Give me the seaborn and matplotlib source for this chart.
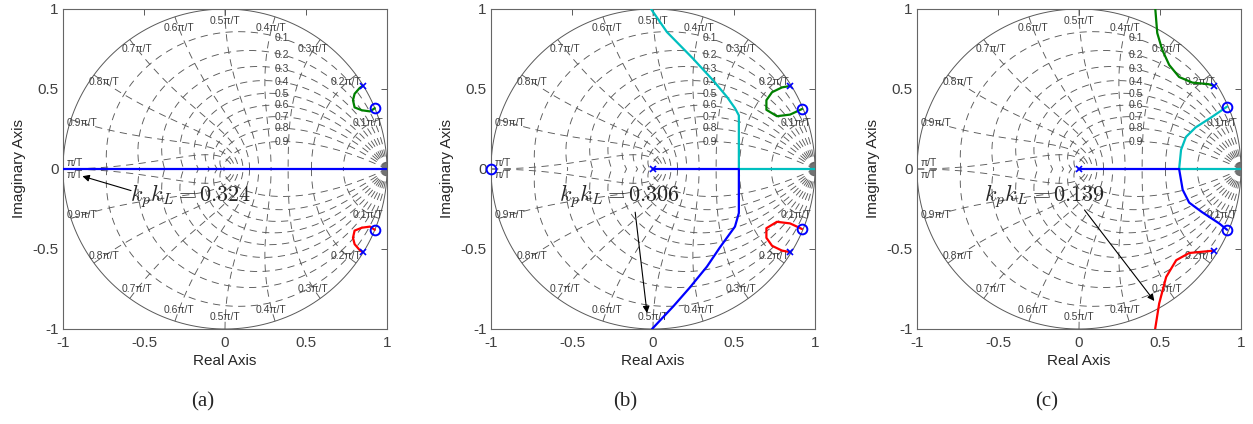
import numpy as np
import matplotlib
matplotlib.use("Agg")
import matplotlib.pyplot as plt
import seaborn as sns

# ---- data (z-plane root loci) ----
captions = ["(a)", "(b)", "(c)"]
gains = ["0.324", "0.306", "0.139"]

# panel (a)
a_blue_x = [-1.0, 1.0]
a_blue_y = [0.0, 0.0]
a_green_x = [0.85, 0.83, 0.80, 0.79, 0.80, 0.845, 0.895, 0.925]
a_green_y = [0.52, 0.505, 0.47, 0.43, 0.385, 0.367, 0.36, 0.38]
a_red_x = [0.85, 0.83, 0.80, 0.79, 0.80, 0.845, 0.895, 0.925]
a_red_y = [-0.52, -0.505, -0.47, -0.43, -0.385, -0.367, -0.36, -0.38]
a_poles_x = [0.85, 0.85]
a_poles_y = [0.52, -0.52]
a_zeros_x = [0.925, 0.925]
a_zeros_y = [0.38, -0.38]

# panel (b)
b_cyan_x = [1.0, 0.53, 0.53, 0.506, 0.457, 0.37, 0.247, 0.086, -0.012]
b_cyan_y = [0.0, 0.0, 0.335, 0.38, 0.45, 0.555, 0.69, 0.856, 1.0]
b_blue_x = [0.0, 0.53, 0.53, 0.506, 0.413, 0.333, 0.228, 0.124, -0.006]
b_blue_y = [0.0, 0.0, -0.275, -0.36, -0.49, -0.61, -0.74, -0.86, -1.0]
b_green_x = [0.846, 0.796, 0.735, 0.70, 0.70, 0.765, 0.846, 0.92]
b_green_y = [0.519, 0.51, 0.48, 0.43, 0.37, 0.33, 0.34, 0.375]
b_red_x = [0.846, 0.796, 0.735, 0.70, 0.70, 0.765, 0.846, 0.92]
b_red_y = [-0.519, -0.51, -0.48, -0.43, -0.37, -0.33, -0.34, -0.375]
b_poles_x = [0.846, 0.846, 0.0]
b_poles_y = [0.519, -0.519, 0.0]
b_zeros_x = [0.92, 0.92, -1.0]
b_zeros_y = [0.375, -0.375, 0.0]

# panel (c)
c_green_x = [0.834, 0.80, 0.70, 0.618, 0.557, 0.514, 0.483, 0.471]
c_green_y = [0.52, 0.53, 0.54, 0.575, 0.65, 0.744, 0.85, 1.0]
c_red_x = [0.834, 0.68, 0.60, 0.538, 0.495, 0.47]
c_red_y = [-0.51, -0.525, -0.57, -0.675, -0.84, -1.0]
c_cyan_x = [1.0, 0.618, 0.63, 0.66, 0.72, 0.82, 0.914]
c_cyan_y = [0.0, 0.0, 0.12, 0.2, 0.26, 0.325, 0.39]
c_blue_x = [0.0, 0.618, 0.64, 0.68, 0.76, 0.865, 0.914]
c_blue_y = [0.0, 0.0, -0.13, -0.21, -0.27, -0.34, -0.38]
c_poles_x = [0.834, 0.834, 0.0]
c_poles_y = [0.52, -0.51, 0.0]
c_zeros_x = [0.914, 0.914]
c_zeros_y = [0.39, -0.38]

# annotation: text centre and arrow (tail -> head)
text_xy = [(-0.21, -0.166), (-0.204, -0.169), (-0.212, -0.169)]
arrow_tail = [(-0.58, -0.135), (-0.11, -0.27), (0.034, -0.256)]
arrow_head = [(-0.88, -0.045), (-0.037, -0.9), (0.465, -0.825)]

panels = [
    dict(lines=[(a_blue_x, a_blue_y, "#0000ff"), (a_green_x, a_green_y, "#008000"),
                (a_red_x, a_red_y, "#ff0000")],
         poles=(a_poles_x, a_poles_y), zeros=(a_zeros_x, a_zeros_y)),
    dict(lines=[(b_cyan_x, b_cyan_y, "#00bfbf"), (b_blue_x, b_blue_y, "#0000ff"),
                (b_green_x, b_green_y, "#008000"), (b_red_x, b_red_y, "#ff0000")],
         poles=(b_poles_x, b_poles_y), zeros=(b_zeros_x, b_zeros_y)),
    dict(lines=[(c_cyan_x, c_cyan_y, "#00bfbf"), (c_blue_x, c_blue_y, "#0000ff"),
                (c_green_x, c_green_y, "#008000"), (c_red_x, c_red_y, "#ff0000")],
         poles=(c_poles_x, c_poles_y), zeros=(c_zeros_x, c_zeros_y)),
]

sns.set_style("white")
plt.rcParams['font.family'] = ['Liberation Sans', 'DejaVu Sans']
plt.rcParams['mathtext.fontset'] = 'cm'
plt.rcParams['axes.unicode_minus'] = False

GRID_C = "0.35"


def zgrid(ax):
    # unit circle
    th = np.linspace(0, 2 * np.pi, 400)
    ax.plot(np.cos(th), np.sin(th), color=GRID_C, lw=0.7, zorder=1)
    dash = dict(color=GRID_C, lw=0.65, ls=(0, (8, 6)), zorder=1)
    # constant damping spirals
    w = np.linspace(0, np.pi, 300)
    for zeta in np.arange(1, 10) / 10:
        r = np.exp(-zeta * w / np.sqrt(1 - zeta ** 2))
        ax.plot(r * np.cos(w), r * np.sin(w), **dash)
        ax.plot(r * np.cos(w), -r * np.sin(w), **dash)
        xs = r * np.cos(w)
        i = np.argmin(np.abs(xs - 0.35))
        ax.text(xs[i], r[i] * np.sin(w[i]), f"{zeta:.1f}", fontsize=7.5,
                color="0.25", ha="center", va="center", zorder=2)
    # constant natural frequency curves
    z = np.linspace(0, 1, 200)
    for k in range(1, 11):
        wn = k * np.pi / 10
        r = np.exp(-z * wn)
        ang = wn * np.sqrt(1 - z ** 2)
        ax.plot(r * np.cos(ang), r * np.sin(ang), **dash)
        ax.plot(r * np.cos(ang), -r * np.sin(ang), **dash)
        lab = "π/T" if k == 10 else f"{k / 10:.1f}π/T"
        for s in (1, -1):
            if k == 10:
                px, py = -0.93, s * 0.035
            else:
                px, py = 0.925 * np.cos(wn), s * 0.925 * np.sin(wn)
            ax.text(px, py, lab, fontsize=7.5, color="0.25",
                    ha="center", va="center", zorder=2)
    # dense cluster where the grid meets z = 1
    ax.plot([1.0], [0.0], "o", color="0.45", ms=8, zorder=2)


fig = plt.figure(figsize=(12.53, 4.24), dpi=100)
lefts = [63 / 1253, 491 / 1253, 917 / 1253]
cap_x = [203 / 1253, 625 / 1253, 1047 / 1253]
for i, p in enumerate(panels):
    ax = fig.add_axes([lefts[i], 1 - 329 / 424, 324 / 1253, 320 / 424])
    zgrid(ax)
    for xs, ys, col in p["lines"]:
        sns.lineplot(x=xs, y=ys, sort=False, estimator=None, color=col, lw=1.6,
                     ax=ax, zorder=3)
    ax.plot(*p["poles"], "x", color="#0000ff", ms=4, mew=1.2, zorder=4, clip_on=False)
    ax.plot(*p["zeros"], "o", mfc="none", mec="#0000ff", ms=7, mew=1.4, zorder=4,
            clip_on=False)
    ax.text(*text_xy[i], r"$k_pk_L = $" + rf"${gains[i]}$", fontsize=16,
            ha="center", va="center", zorder=5)
    ax.annotate("", xy=arrow_head[i], xytext=arrow_tail[i],
                arrowprops=dict(arrowstyle="-|>", color="k", lw=0.8,
                                mutation_scale=10, shrinkA=0, shrinkB=0), zorder=5)
    ax.set_xlim(-1, 1)
    ax.set_ylim(-1, 1)
    ticks = [-1, -0.5, 0, 0.5, 1]
    ax.set_xticks(ticks)
    ax.set_yticks(ticks)
    ax.set_xticklabels(["-1", "-0.5", "0", "0.5", "1"])
    ax.set_yticklabels(["-1", "-0.5", "0", "0.5", "1"])
    ax.tick_params(direction="in", top=True, right=True, length=4, width=0.6,
                   colors="0.25", labelsize=11)
    ax.tick_params(axis="x", pad=5)
    ax.tick_params(axis="y", pad=3)
    for sp in ax.spines.values():
        sp.set_color("0.4")
        sp.set_linewidth(0.8)
    ax.set_xlabel("Real Axis", fontsize=11, labelpad=3)
    ax.set_ylabel("Imaginary Axis", fontsize=11, labelpad=5)
    fig.text(cap_x[i], 1 - 402 / 424, captions[i], fontsize=15,
             family="Liberation Serif", ha="center", va="center")

fig.savefig("out.png", dpi=100)
